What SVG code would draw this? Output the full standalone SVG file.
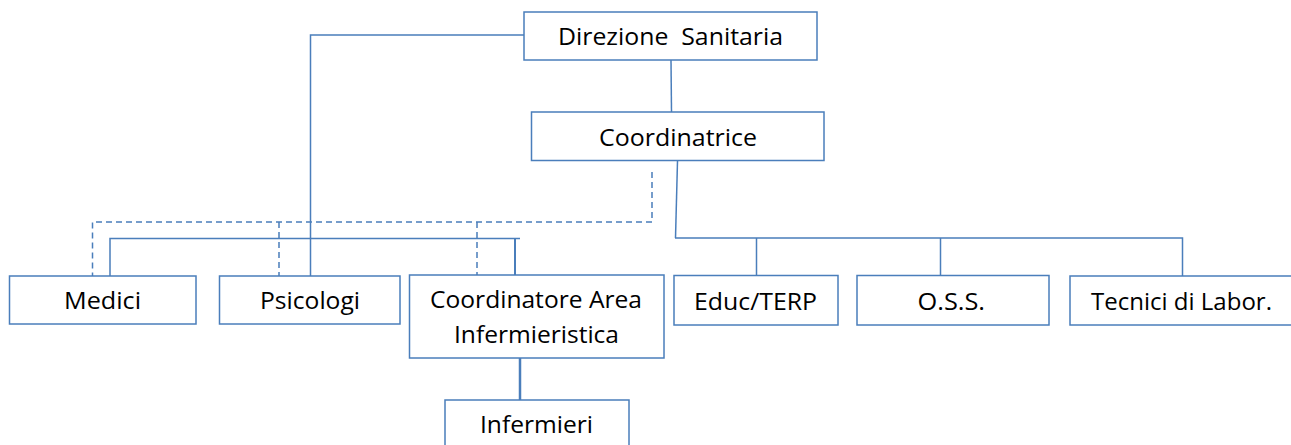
<svg xmlns="http://www.w3.org/2000/svg" width="1291" height="445" viewBox="0 0 1291 445">
<style>
.box{fill:#fff;stroke:#4a7ebb;stroke-width:1.5}
.t{font-family:"Open Sans","Noto Sans","DejaVu Sans",sans-serif;font-size:24px;fill:#000}
.c{fill:none;stroke:#4a7ebb;stroke-width:1.5}
.d{fill:none;stroke:#4a7ebb;stroke-width:1.5;stroke-dasharray:6 4}
</style>
<rect width="1291" height="445" fill="#fff"/>
<g id="connectors">
<polyline class="c" points="524,35 310.5,35 310.5,276"/>
<line class="c" x1="671" y1="60" x2="671.5" y2="112"/>
<line class="c" x1="677.5" y1="161" x2="675.5" y2="238"/>
<polyline class="c" points="675,238 1182.5,238 1182.5,276"/>
<line class="c" x1="756.5" y1="238" x2="756.5" y2="275"/>
<line class="c" x1="940.5" y1="238" x2="940.5" y2="275"/>
<polyline class="c" points="110,276 110,238.5 520,238.5"/>
<line class="c" x1="515" y1="238.5" x2="515" y2="275" style="stroke-width:2"/>
<line class="c" x1="520" y1="358" x2="520" y2="400" style="stroke-width:2.5"/>
<polyline class="d" points="652,172 652,222 92.5,222 92.5,276"/>
<line class="d" x1="279" y1="222" x2="279" y2="276"/>
<line class="d" x1="477" y1="222" x2="477" y2="275"/>
</g>
<g id="direzione">
<rect class="box" x="524" y="12" width="293" height="48"/>
<text class="t" x="558" y="45" textLength="225" lengthAdjust="spacingAndGlyphs" xml:space="preserve">Direzione  Sanitaria</text>
</g>
<g id="coordinatrice">
<rect class="box" x="531.5" y="112" width="292.5" height="48.5"/>
<text class="t" x="599" y="146" textLength="158" lengthAdjust="spacingAndGlyphs">Coordinatrice</text>
</g>
<g id="medici">
<rect class="box" x="9.5" y="276" width="186.5" height="48"/>
<text class="t" x="64" y="309" textLength="77" lengthAdjust="spacingAndGlyphs">Medici</text>
</g>
<g id="psicologi">
<rect class="box" x="219.5" y="276" width="180.5" height="48"/>
<text class="t" x="260" y="309" textLength="100" lengthAdjust="spacingAndGlyphs">Psicologi</text>
</g>
<g id="coordinatore">
<rect class="box" x="409.5" y="275" width="254.5" height="83"/>
<text class="t" x="430" y="308" textLength="212" lengthAdjust="spacingAndGlyphs">Coordinatore Area</text>
<text class="t" x="454" y="343" textLength="165" lengthAdjust="spacingAndGlyphs">Infermieristica</text>
</g>
<g id="infermieri">
<rect class="box" x="445" y="400" width="184" height="60"/>
<text class="t" x="480" y="433" textLength="113" lengthAdjust="spacingAndGlyphs">Infermieri</text>
</g>
<g id="educ">
<rect class="box" x="674" y="275.5" width="164" height="49.5"/>
<text class="t" x="694" y="310" textLength="123" lengthAdjust="spacingAndGlyphs">Educ/TERP</text>
</g>
<g id="oss">
<rect class="box" x="857" y="275.5" width="192" height="49.5"/>
<text class="t" x="917.5" y="310" textLength="67.5" lengthAdjust="spacingAndGlyphs">O.S.S.</text>
</g>
<g id="tecnici">
<rect class="box" x="1070" y="276" width="240" height="49"/>
<text class="t" x="1091" y="310" textLength="181" lengthAdjust="spacingAndGlyphs">Tecnici di Labor.</text>
</g>
</svg>
